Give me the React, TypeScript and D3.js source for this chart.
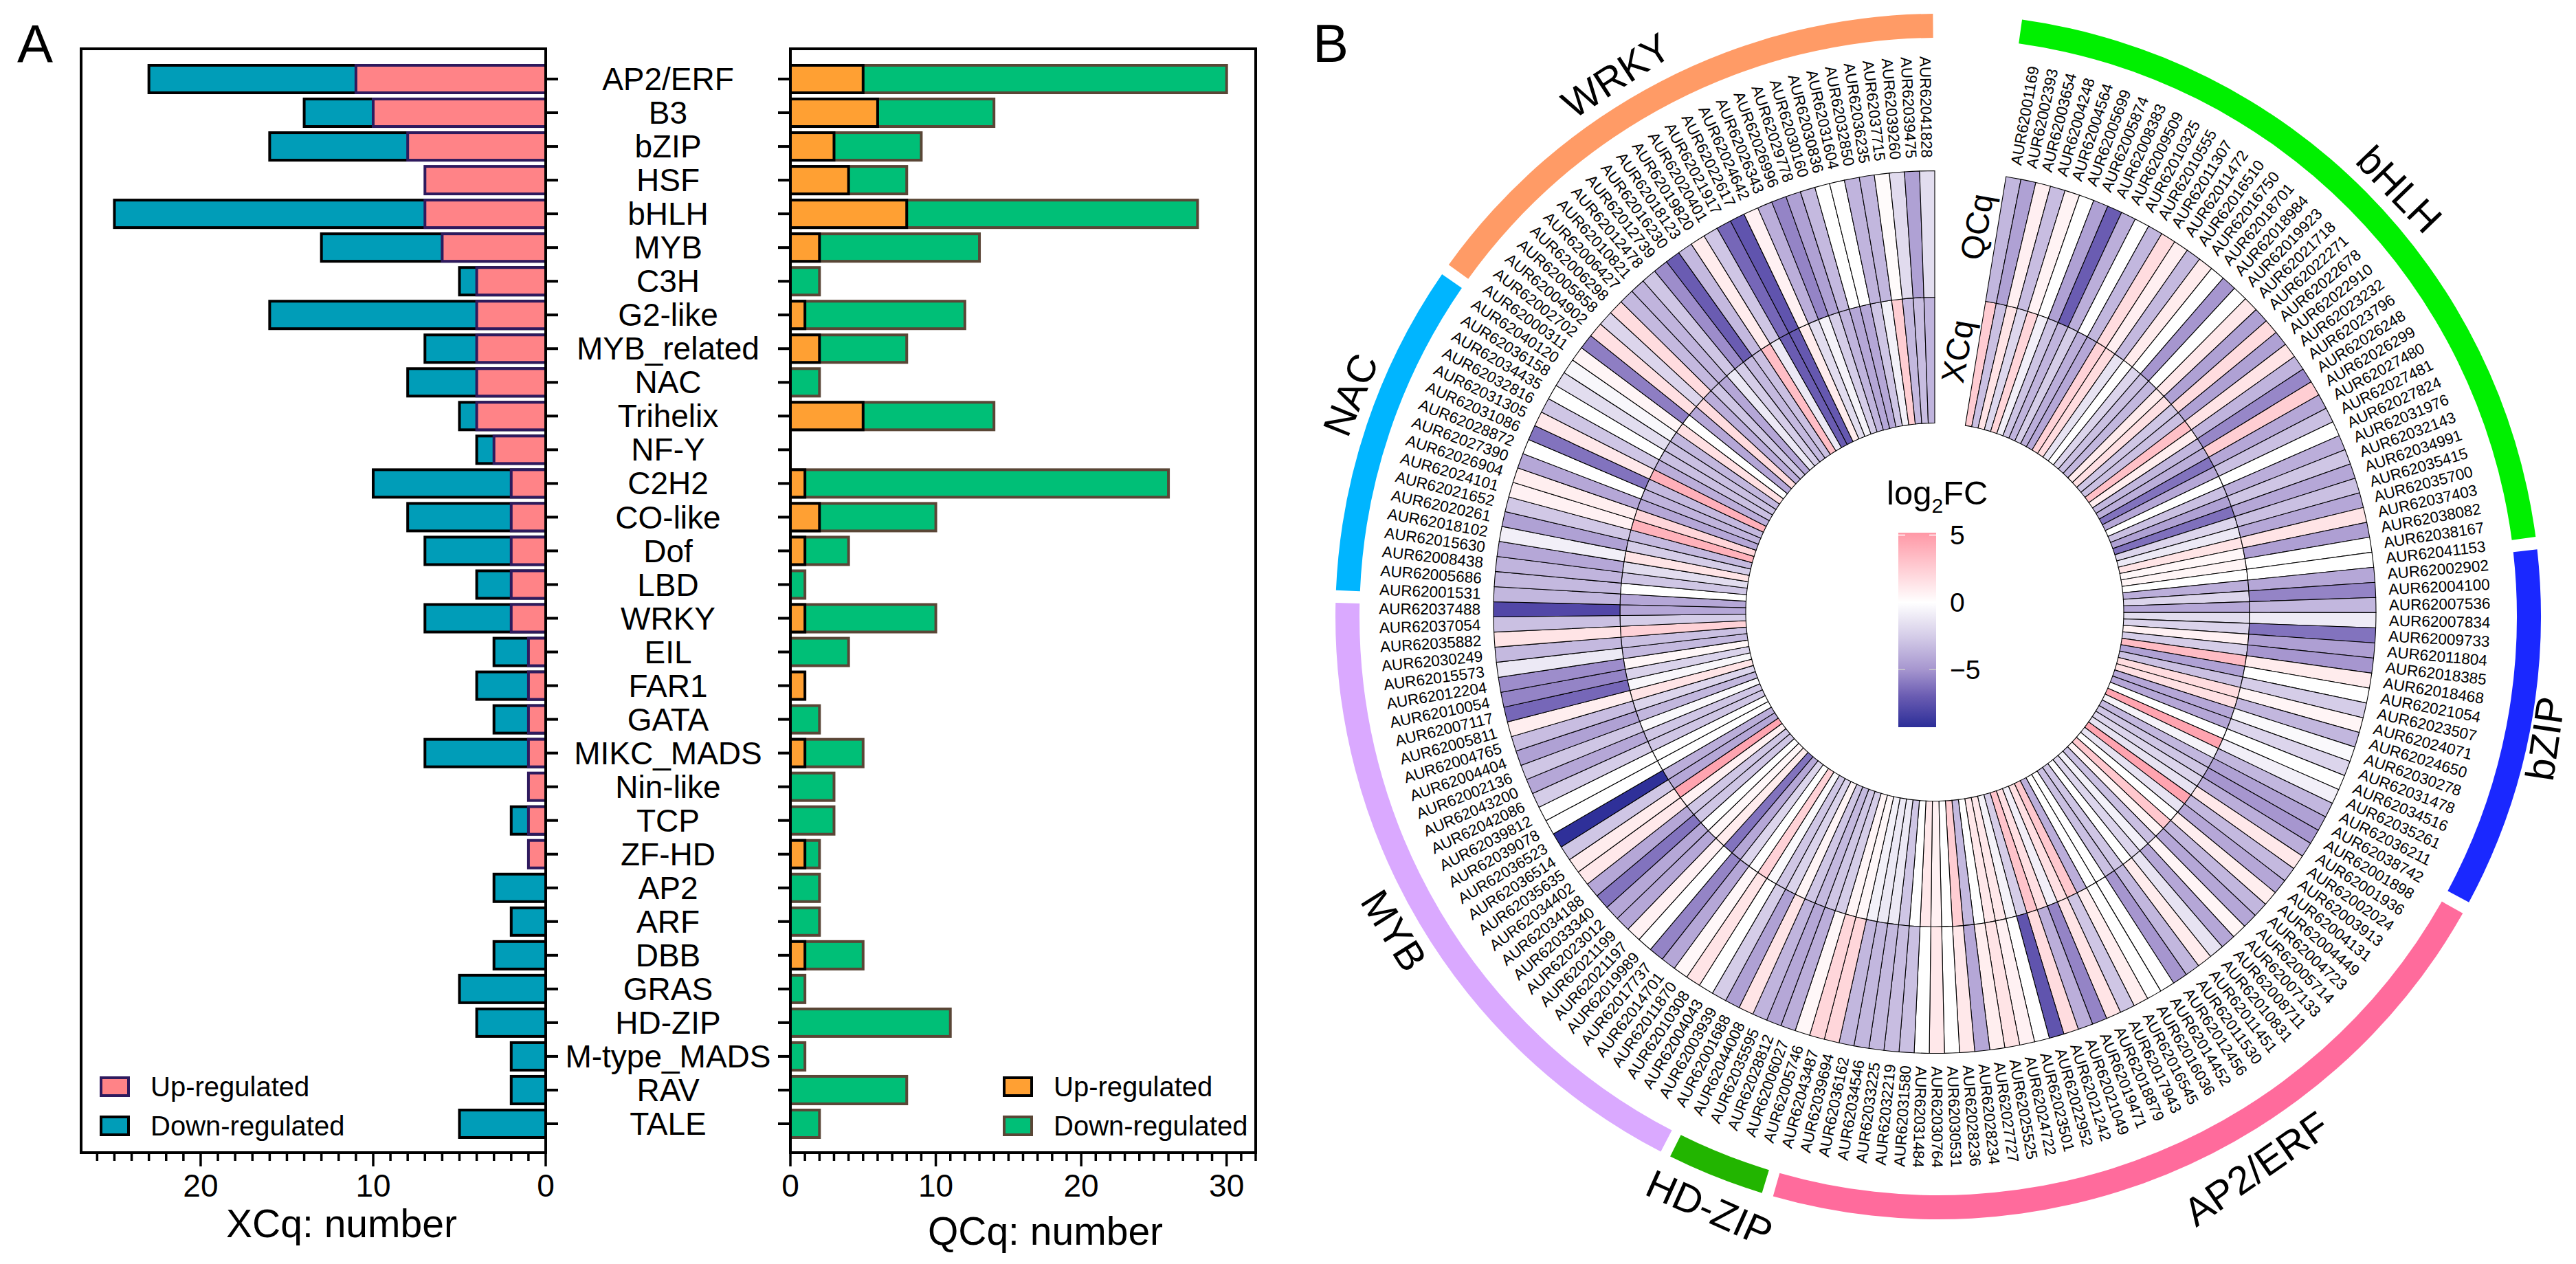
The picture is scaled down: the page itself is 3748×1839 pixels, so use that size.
import React, { useLayoutEffect } from "react";
import * as d3 from "d3";

// ---------- Panel A data ----------
const categories = ["AP2/ERF","B3","bZIP","HSF","bHLH","MYB","C3H","G2-like","MYB_related","NAC","Trihelix","NF-Y","C2H2","CO-like","Dof","LBD","WRKY","EIL","FAR1","GATA","MIKC_MADS","Nin-like","TCP","ZF-HD","AP2","ARF","DBB","GRAS","HD-ZIP","M-type_MADS","RAV","TALE"];
const xcqUp = [11,10,8,7,7,6,4,4,4,4,4,3,2,2,2,2,2,1,1,1,1,1,1,1,0,0,0,0,0,0,0,0];
const xcqDown = [12,4,8,0,18,7,1,12,3,4,1,1,8,6,5,2,5,2,3,2,6,0,1,0,3,2,3,5,4,2,2,5];
const qcqUp = [5,6,3,4,8,2,0,1,2,0,5,0,1,2,1,0,1,0,1,0,1,0,0,1,0,0,1,0,0,0,0,0];
const qcqDown = [25,8,6,4,20,11,2,11,6,2,9,0,25,8,3,1,9,4,0,2,4,3,3,1,2,2,4,1,11,1,8,2];

// ---------- Panel B data ----------
const families = ["bHLH","bZIP","AP2/ERF","HD-ZIP","MYB","NAC","WRKY"];
const familyColors = ["#00F000","#1A28FF","#FF6B9C","#22B500","#DAA9FF","#00B5FF","#FF9B66"];
const bHLHGenes = ["01169","02393","03654","04248","04564","05699","05874","08383","09509","10325","10555","11307","11472","16510","16750","18701","18984","19923","21718","22271","22678","22910","23232","23796","26248","26299","27480","27481","27824","31976","32143","34991","35415","35700","37403","38082","38167","41153"];
const bZIPGenes = ["02902","04100","07536","07834","09733","11804","18385","18468","21054","23507","24071","24650","30278","31478","34516","35261","36211","38742"];
const ap2Genes = ["01898","01936","02024","03913","04131","04449","04723","05714","07133","08711","10831","11451","11530","12456","14452","16036","16545","17943","18879","19471","21049","21242","22952","23501","24722","25525","27727","28234","28236","30531","30764","31484","31580","32219","33225","34546","36162","39694","43487"];
const hdzipGenes = ["05746","06027","28812","35595","44008"];
const mybGenes = ["01688","03939","04043","10308","11870","14701","17737","19989","21197","21199","23012","33340","34188","34402","35635","36514","36523","39078","39812","42086","43200","02136","04404","04765","05811","07117","10054","12204","15573","30249","35882","37054","37488"];
const nacGenes = ["01531","05686","08438","15630","18102","20261","21652","24101","26904","27390","28872","31086","31305","32816","34435","36158","40120"];
const wrkyGenes = ["00311","02702","04902","05858","06298","06427","10821","12478","12739","16230","18123","19820","20401","21917","22617","24642","26343","26996","29778","30160","30836","31604","32850","36235","37715","39260","39475","41828"];

const qBHLH = [-3.5,-4.5,0.8,-3.2,0.6,0,-4.5,-7,-3.9,0,-3.5,1.8,0.8,-3.4,1,0,-5,0,1.2,-4.5,1.8,-4.5,1.4,-3.6,-5.5,2.5,-4.2,-3.1,0,-3.9,-2.8,-4.2,-3.1,-4.2,1.4,-4.6,0,0];
const qBZIP = [-4.2,-5.6,-3.5,-1,-6.2,-4.6,-5,1,0,-2.5,0.5,-3.5,-0.3,-2.1,0,-0.8,-3.5,-4.5];
const qAP2 = [-5,-3.9,1.2,-3.4,-4.2,0.9,-3.5,-4.2,0.5,-4.2,-1.4,1,-3.5,-5,0,0,0.9,-2.8,1.4,-5.6,-3.9,1.8,-7.4,0,0.7,1.4,0.9,-4.2,1.2,0,1.2,0,-3.1,-3.2,-3.4,-3.5,-3.5,2.1,2.1];
const qHDZIP = [0.4,-3.9,-4.2,-3.6,1.4];
const qMYB = [-4.5,-2.5,0,1.4,0.4,-4.2,-5.6,0,0.7,-4.2,-4.2,-6.2,-4.2,1.2,1,-2.8,-9.2,0,0,-2.5,-4.2,-2.8,-4.5,-3.2,0.9,-6.6,-5.6,-5.3,-1.1,-3.4,1.4,-3.1,-8];
const qNAC = [-3.5,-3.4,-3.6,-4.2,-0.8,-4.5,-2.7,0.7,0.9,-4.2,0,-6.2,1.2,-2.8,0,-1.7,-0.4];
const qWRKY = [0.5,-5.8,1.6,-2.1,1.8,-3.4,-3.6,-2.8,-5.3,-7,-3.4,1,-2.8,-6.6,-7.4,0.7,-3.9,-5.6,-4.5,-3.4,0,0,-3.6,-3.5,0.2,-1.8,-4.5,-1.7];

const xBHLH = [2.6,-3.1,1.4,-2,2.1,-0.8,-2.9,-3.6,-2.5,-3.9,-4.2,2.3,1.8,-1.4,0,-2.1,-3.1,-3.5,1,1.6,-2.8,-3.1,3.2,0.9,-3.5,-3.9,-6.2,-4.2,0,-3.1,-4.5,-6.3,-2.1,-1.1,1.4,0.4,0.5,0];
const xBZIP = [-3.9,-2.1,-4.2,-1.7,-2.2,0.7,-2.5,3.4,-4.5,-3.1,1.8,1.6,-4.2,-4.2,0,4.6,-0.6,-3.5];
const xAP2 = [-2.8,-2.1,-1.4,4.6,-1.4,0,2.8,0.5,-3.1,-0.7,-2.1,0,-2.8,-3.1,0,0,-3.9,2.8,1.6,-0.8,1.6,3,-2.5,-0.6,1.2,1.2,0,-3.4,2.5,0,0.7,1.2,0,-2.8,-1.1,-1.1,-0.7,0.4,0.5];
const xHDZIP = [-2.5,-2.8,-3.4,-2.8,0.5];
const xMYB = [-2.2,-2.8,-0.3,2.3,0,-2.1,-4.2,-6.2,1,0.4,0,-2.8,-2.8,0.7,4.6,-4.2,-3.9,0,0,-2.8,-2.8,-0.3,-3.5,-2.1,1.4,-0.4,-2.2,0.4,-3.4,-3.1,2.3,-2.5,-4.2];
const xNAC = [-4.2,0,-2.8,-1.7,1.4,-2.5,-3.4,3.9,2.1,-4.2,-3.6,-3.4,4,-3.9,-3.1,-3.1,-3.5];
const xWRKY = [1.6,0,-4.2,1.8,-3.9,-2.8,-4.2,-1.1,-2.5,-3.4,-3.1,3.3,-1.1,-7,-7.2,1,-1.7,-0.6,-2.5,-3.6,-4.2,-4.2,-2.8,-0.7,2.5,-3.4,-3.2,-3.6];

const colorValues = [-9.3,-7,-5,-2.5,0,5.2];
const colorHexes = ["#2C2E98","#6A5CB2","#A696CF","#D5CDE8","#FFFFFF","#FF98A6"];
const legendTicks = [5,0,-5];

// ---------- Layout ----------
const W = 3748, H = 1839;
const FONT = "'Liberation Sans', Arial, sans-serif";
const leftPanel = { l: 118, r: 794, t: 71, b: 1677 };
const rightPanel = { l: 1150, r: 1827, t: 71, b: 1677 };
const CX = 2815, CY = 890.5, R0 = 275, R1 = 458, R2 = 642, LABEL_R = 661;
const BX = 2820, BY = 897, BR0 = 842, BR1 = 877;
const GAP_DEG = 9.3, FLIP_DEG = 182.7;
const bandStart = [8, 83.6, 119.5, 197, 207.4, 272.5, 305.7];
const bandEnd = [82.4, 118.3, 195.9, 206.4, 271.3, 304.6, 359.5];
const famLabelPos = [
  { a: 47.7, r: 914, rot: 46 }, { a: 101.7, r: 907, rot: -81.5 }, { a: 150, r: 935, rot: -35 },
  { a: 200.7, r: 927, rot: 24 }, { a: 239.5, r: 913, rot: 58 }, { a: 290.4, r: 907, rot: -68 }, { a: 329.3, r: 908, rot: -33 },
];

const rad = (d: number) => (d * Math.PI) / 180;
const polar = (cx: number, cy: number, r: number, deg: number): [number, number] => [cx + r * Math.sin(rad(deg)), cy - r * Math.cos(rad(deg))];

const color = d3.scaleLinear<string>().domain(colorValues).range(colorHexes).interpolate(d3.interpolateLab).clamp(true);

function BarPanel({ p, x, up, down, upFill, upStroke, downFill, downStroke, ticksMajor, maxMinor, yTickDir, legendX, title, titleX, titleY }: any) {
  const y = d3.scalePoint<string>().domain(categories).range([115, 1635]);
  const h = 40;
  const zero = x(0);
  const sw = 4;
  return (
    <g>
      {categories.map((c, i) => {
        const total = up[i] + down[i];
        const rect = (a: number, b: number, fill: string, stroke: string) => {
          const x0 = Math.min(x(a), x(b)), x1 = Math.max(x(a), x(b));
          return <rect x={x0} y={(y(c) as number) - h / 2} width={x1 - x0} height={h} fill={fill} stroke={stroke} strokeWidth={sw} />;
        };
        return (
          <g key={c}>
            {down[i] > 0 && rect(0, total, downFill, downStroke)}
            {up[i] > 0 && rect(0, up[i], upFill, upStroke)}
            <line x1={zero} x2={zero + yTickDir * 18} y1={y(c)} y2={y(c)} stroke="#000" strokeWidth={4} />
          </g>
        );
      })}
      <rect x={p.l} y={p.t} width={p.r - p.l} height={p.b - p.t} fill="none" stroke="#000" strokeWidth={4} />
      {d3.range(0, maxMinor + 1).map((v) => (
        <line key={v} x1={x(v)} x2={x(v)} y1={p.b} y2={p.b + (v % 10 === 0 ? 20 : 12)} stroke="#000" strokeWidth={3.5} />
      ))}
      {ticksMajor.map((v: number) => (
        <text key={v} x={x(v)} y={p.b + 64} textAnchor="middle" fontSize={46} fontFamily={FONT}>{v}</text>
      ))}
      <text x={titleX} y={titleY} textAnchor="middle" fontSize={57} fontFamily={FONT}>{title}</text>
      {[0, 1].map((k) => (
        <g key={k}>
          <rect x={legendX} y={k === 0 ? 1568 : 1625} width={40} height={26} fill={k === 0 ? upFill : downFill} stroke={k === 0 ? upStroke : downStroke} strokeWidth={4} />
          <text x={legendX + 72} y={(k === 0 ? 1581 : 1638) + 14} fontSize={40} fontFamily={FONT}>{k === 0 ? "Up-regulated" : "Down-regulated"}</text>
        </g>
      ))}
    </g>
  );
}

function Heat() {
  const geneGroups = [bHLHGenes, bZIPGenes, ap2Genes, hdzipGenes, mybGenes, nacGenes, wrkyGenes];
  const genes = geneGroups.flat();
  const qValues = [qBHLH, qBZIP, qAP2, qHDZIP, qMYB, qNAC, qWRKY].flat();
  const xValues = [xBHLH, xBZIP, xAP2, xHDZIP, xMYB, xNAC, xWRKY].flat();
  const angle = d3.scaleLinear().domain([0, genes.length]).range([GAP_DEG, 360]);
  const arc = d3.arc<any>();
  const cell = (i: number, r0: number, r1: number) =>
    arc({ innerRadius: r0, outerRadius: r1, startAngle: rad(angle(i)), endAngle: rad(angle(i + 1)) }) as string;
  const legendY = d3.scaleLinear().domain([-5, 5]).range([974, 778.5]);
  const gradStops = colorValues.map((v) => ({ off: (v - colorValues[0]) / (colorValues[colorValues.length - 1] - colorValues[0]), c: color(v) }));
  const familyLabelPts = famLabelPos.map((f) => polar(CX, CY, f.r, f.a));
  return (
    <g>
      <defs>
        <linearGradient id="lg" x1="0" y1="1" x2="0" y2="0">
          {gradStops.map((s, i) => <stop key={i} offset={s.off} stopColor={s.c} />)}
        </linearGradient>
      </defs>
      <g transform={`translate(${CX},${CY})`}>
        {genes.map((g, i) => (
          <g key={g + i}>
            <path d={cell(i, R0, R1)} fill={color(xValues[i] ?? 0)} stroke="#000" strokeWidth={1.1} />
            <path d={cell(i, R1, R2)} fill={color(qValues[i] ?? 0)} stroke="#000" strokeWidth={1.1} />
          </g>
        ))}
      </g>
      {genes.map((g, i) => {
        const a = angle(i + 0.5);
        const [tx, ty] = polar(CX, CY, LABEL_R, a);
        const right = a < FLIP_DEG;
        return (
          <text key={g + "l" + i} x={tx} y={ty} dy="0.35em" fontSize={22.5} fontFamily={FONT} textAnchor={right ? "start" : "end"}
            transform={`rotate(${right ? a - 90 : a + 90},${tx},${ty})`}>{"AUR620" + g}</text>
        );
      })}
      <g transform={`translate(${BX},${BY})`}>
        {families.map((f, i) => (
          <path key={f} d={arc({ innerRadius: BR0, outerRadius: BR1, startAngle: rad(bandStart[i]), endAngle: rad(bandEnd[i]) }) as string} fill={familyColors[i]} />
        ))}
      </g>
      {families.map((f, i) => {
        const [tx, ty] = familyLabelPts[i];
        return <text key={f} x={tx} y={ty} dy="0.35em" textAnchor="middle" fontSize={58} fontFamily={FONT} transform={`rotate(${famLabelPos[i].rot},${tx},${ty})`}>{f}</text>;
      })}
      <text x={2876} y={330} dy="0.35em" textAnchor="middle" fontSize={47} fontFamily={FONT} transform="rotate(-80,2876,330)">QCq</text>
      <text x={2848} y={511} dy="0.35em" textAnchor="middle" fontSize={47} fontFamily={FONT} transform="rotate(-80,2848,511)">XCq</text>
      <text x={2745} y={734} fontSize={49} fontFamily={FONT}>log<tspan dy={12} fontSize={30}>2</tspan><tspan dy={-12}>FC</tspan></text>
      <rect x={2762} y={775} width={55} height={283} fill="url(#lg)" />
      {legendTicks.map((t) => (
        <g key={t}>
          {t !== 0 && <>
            <line x1={2762} x2={2772} y1={legendY(t)} y2={legendY(t)} stroke={t > 0 ? "#fff" : "#ccc"} strokeWidth={1.5} />
            <line x1={2807} x2={2817} y1={legendY(t)} y2={legendY(t)} stroke={t > 0 ? "#fff" : "#ccc"} strokeWidth={1.5} />
          </>}
          <text x={2837} y={legendY(t)} dy="0.35em" fontSize={39} fontFamily={FONT}>{t < 0 ? "\u2212" + Math.abs(t) : t}</text>
        </g>
      ))}
    </g>
  );
}

export default function App() {
  useLayoutEffect(() => { document.body.style.margin = "0"; document.body.style.background = "#fff"; }, []);
  const xL = d3.scaleLinear().domain([0, 26.93]).range([leftPanel.r, leftPanel.l]);
  const xR = d3.scaleLinear().domain([0, 32]).range([rightPanel.l, rightPanel.r]);
  const yLab = d3.scalePoint<string>().domain(categories).range([115, 1635]);
  return (
    <svg width={W} height={H} viewBox={`0 0 ${W} ${H}`} style={{ display: "block", background: "#fff" }}>
      <text x={25} y={91} fontSize={78} fontFamily={FONT}>A</text>
      <text x={1910} y={90} fontSize={78} fontFamily={FONT}>B</text>
      <BarPanel p={leftPanel} x={xL} up={xcqUp} down={xcqDown} upFill="#FF8387" upStroke="#2E1A5E" downFill="#009DB8" downStroke="#000"
        ticksMajor={[20, 10, 0]} maxMinor={26} yTickDir={1} legendX={147} title="XCq: number" titleX={497} titleY={1800} />
      <BarPanel p={rightPanel} x={xR} up={qcqUp} down={qcqDown} upFill="#FFA033" upStroke="#000" downFill="#00BF77" downStroke="#5A4636"
        ticksMajor={[0, 10, 20, 30]} maxMinor={32} yTickDir={-1} legendX={1461} title="QCq: number" titleX={1521} titleY={1811} />
      {categories.map((c) => (
        <text key={c} x={972} y={yLab(c)} dy="0.35em" textAnchor="middle" fontSize={46} fontFamily={FONT}>{c}</text>
      ))}
      <Heat />
    </svg>
  );
}
